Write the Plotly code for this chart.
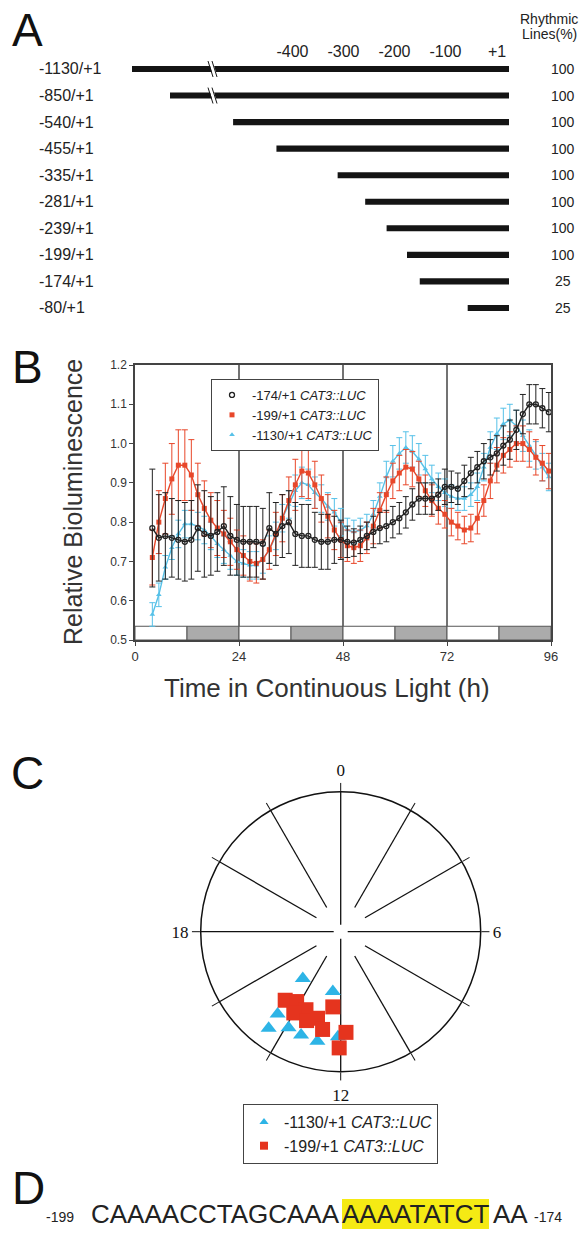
import plotly.graph_objects as go

W, H = 582, 1233


def px(x):
    return x / W


def py(y):
    return 1 - y / H


FONT = "Liberation Sans"
SERIF = "Liberation Serif"
INK = "#222222"

# ---------------- Panel A data ----------------
construct_labels = ["-1130/+1", "-850/+1", "-540/+1", "-455/+1", "-335/+1",
                    "-281/+1", "-239/+1", "-199/+1", "-174/+1", "-80/+1"]
construct_start = [-1130, -850, -540, -455, -335, -281, -239, -199, -174, -80]
construct_end = [1, 1, 1, 1, 1, 1, 1, 1, 1, 1]
rhythmic_pct = [100, 100, 100, 100, 100, 100, 100, 100, 25, 25]
scale_tick_vals = [-400, -300, -200, -100, 1]
scale_tick_text = ["-400", "-300", "-200", "-100", "+1"]

# ---------------- Panel B data ----------------
time_h = [4.0, 5.5, 7.0, 8.5, 10.0, 11.5, 13.0, 14.5, 16.0, 17.5,
          19.0, 20.5, 22.0, 23.5, 25.0, 26.5, 28.0, 29.5, 31.0, 32.5,
          34.0, 35.5, 37.0, 38.5, 40.0, 41.5, 43.0, 44.5, 46.0, 47.5,
          49.0, 50.5, 52.0, 53.5, 55.0, 56.5, 58.0, 59.5, 61.0, 62.5,
          64.0, 65.5, 67.0, 68.5, 70.0, 71.5, 73.0, 74.5, 76.0, 77.5,
          79.0, 80.5, 82.0, 83.5, 85.0, 86.5, 88.0, 89.5, 91.0, 92.5,
          94.0, 95.5]

lum_174 = [0.785, 0.76, 0.765, 0.76, 0.755, 0.75, 0.755, 0.785, 0.77, 0.765,
           0.775, 0.79, 0.765, 0.755, 0.75, 0.75, 0.75, 0.745, 0.785, 0.77,
           0.79, 0.80, 0.77, 0.765, 0.765, 0.755, 0.75, 0.75, 0.755, 0.755,
           0.75, 0.748, 0.755, 0.765, 0.775, 0.785, 0.79, 0.80, 0.81, 0.825,
           0.845, 0.86, 0.86, 0.86, 0.87, 0.89, 0.89, 0.885, 0.905, 0.925,
           0.94, 0.955, 0.965, 0.975, 0.995, 1.01, 1.035, 1.075, 1.10, 1.10,
           1.09, 1.08]
err_174 = [0.15, 0.11, 0.11, 0.10, 0.10, 0.10, 0.10, 0.11, 0.11, 0.10,
           0.10, 0.10, 0.10, 0.09, 0.09, 0.09, 0.09, 0.09, 0.09, 0.08,
           0.08, 0.08, 0.08, 0.08, 0.08, 0.07, 0.07, 0.07, 0.06, 0.05,
           0.04, 0.035, 0.035, 0.035, 0.04, 0.04, 0.04, 0.04, 0.04, 0.04,
           0.04, 0.04, 0.04, 0.04, 0.04, 0.045, 0.04, 0.04, 0.04, 0.04,
           0.04, 0.045, 0.045, 0.045, 0.05, 0.05, 0.05, 0.05, 0.05, 0.05,
           0.05, 0.05]

lum_199 = [0.71, 0.80, 0.86, 0.91, 0.945, 0.945, 0.92, 0.87, 0.835, 0.805,
           0.785, 0.77, 0.75, 0.73, 0.715, 0.70, 0.695, 0.705, 0.73, 0.77,
           0.81, 0.855, 0.895, 0.93, 0.925, 0.895, 0.86, 0.815, 0.78, 0.755,
           0.74, 0.735, 0.74, 0.76, 0.79, 0.83, 0.87, 0.905, 0.925, 0.94,
           0.935, 0.91, 0.88, 0.855, 0.835, 0.82, 0.80, 0.79, 0.78, 0.785,
           0.81, 0.855, 0.905, 0.945, 0.97, 0.985, 1.0, 1.0, 0.985, 0.965,
           0.95, 0.93]
err_199 = [0.07, 0.08, 0.09, 0.09, 0.09, 0.09, 0.09, 0.08, 0.07, 0.07,
           0.07, 0.06, 0.06, 0.05, 0.05, 0.05, 0.05, 0.05, 0.05, 0.055,
           0.06, 0.06, 0.065, 0.065, 0.065, 0.06, 0.06, 0.055, 0.05, 0.045,
           0.04, 0.04, 0.04, 0.04, 0.045, 0.045, 0.045, 0.045, 0.045, 0.045,
           0.045, 0.045, 0.04, 0.04, 0.04, 0.035, 0.035, 0.035, 0.035, 0.035,
           0.04, 0.04, 0.045, 0.045, 0.045, 0.045, 0.045, 0.045, 0.045, 0.045,
           0.045, 0.045]

lum_1130 = [0.565, 0.615, 0.685, 0.735, 0.77, 0.795, 0.795, 0.79, 0.78, 0.765,
            0.745, 0.73, 0.715, 0.70, 0.695, 0.69, 0.69, 0.705, 0.73, 0.765,
            0.81, 0.845, 0.88, 0.90, 0.895, 0.875, 0.86, 0.84, 0.825, 0.80,
            0.78, 0.775, 0.78, 0.79, 0.82, 0.865, 0.915, 0.955, 0.975, 0.99,
            0.98, 0.96, 0.935, 0.91, 0.89, 0.875, 0.865, 0.86, 0.86, 0.87,
            0.89, 0.94, 0.99, 1.025, 1.05, 1.06, 1.045, 1.02, 0.995, 0.97,
            0.94, 0.915]
err_1130 = [0.03, 0.03, 0.03, 0.03, 0.035, 0.035, 0.035, 0.035, 0.035, 0.035,
            0.035, 0.035, 0.035, 0.035, 0.035, 0.035, 0.035, 0.035, 0.035, 0.035,
            0.035, 0.035, 0.04, 0.04, 0.04, 0.04, 0.035, 0.035, 0.035, 0.035,
            0.03, 0.03, 0.03, 0.03, 0.035, 0.035, 0.04, 0.04, 0.04, 0.04,
            0.04, 0.04, 0.035, 0.035, 0.035, 0.035, 0.03, 0.03, 0.03, 0.03,
            0.035, 0.035, 0.04, 0.04, 0.04, 0.04, 0.04, 0.04, 0.04, 0.035,
            0.035, 0.035]

ld_start = [0, 12, 24, 36, 48, 60, 72, 84]
ld_end = [12, 24, 36, 48, 60, 72, 84, 96]
ld_state = ["light", "dark", "light", "dark", "light", "dark", "light", "dark"]
day_lines = [24, 48, 72]
time_ticks = [0, 24, 48, 72, 96]

# ---------------- Panel C data ----------------
phase_1130_h = [14.6, 12.5, 14.5, 14.45, 13.9, 13.4, 12.8, 12.1]
amp_1130 = [0.43, 0.43, 0.74, 0.86, 0.78, 0.79, 0.80, 0.75]
phase_199_h = [14.6, 14.15, 13.6, 12.4, 14.0, 13.4, 13.0, 12.7, 11.8, 12.05]
amp_199 = [0.63, 0.59, 0.61, 0.54, 0.67, 0.68, 0.64, 0.71, 0.72, 0.83]
clock_hours = [0, 2, 4, 6, 8, 10, 12, 14, 16, 18, 20, 22]
clock_labels = {0: "0", 6: "6", 12: "12", 18: "18"}

# ---------------- Panel D data ----------------
seq_left = "CAAAACCTAGCAAA"
seq_box = "AAAATATCT"
seq_right = "AA"

RED = "#E8472A"
BLUE = "#56C1E8"
BLACK = "#222222"
C_BLUE = "#2DB4E6"
C_RED = "#E5341E"

fig = go.Figure()

# ======== Panel A geometry ========
A_ROW0, A_STEP = 69.0, 26.55
K_MAIN = 0.51          # px per bp
END_PX = 509.0         # pixel of +1
MAIN_L, MAIN_R = 213.0, 520.0
xr_main = [1 - (END_PX - MAIN_L) / K_MAIN, 1 + (MAIN_R - END_PX) / K_MAIN]
LEFT_L = 100.0
K_LEFT = (170.0 - 132.0) / 280.0
xr_left = [-1130 - (132.0 - LEFT_L) / K_LEFT, -1130 + (MAIN_L - 132.0) / K_LEFT]
A_TOP, A_BOT = 61.0, 330.0
yr_a = [(A_BOT - A_ROW0) / A_STEP, (A_TOP - A_ROW0) / A_STEP]

rows = list(range(len(construct_labels)))
lengths = [e - s for s, e in zip(construct_start, construct_end)]

fig.add_trace(go.Bar(y=rows, x=lengths, base=construct_start, orientation="h",
                     width=0.23, marker=dict(color="#141414", line=dict(width=0)),
                     xaxis="x", yaxis="y", showlegend=False, hoverinfo="skip"))
broken = [i for i, s in enumerate(construct_start) if s < xr_main[0]]
fig.add_trace(go.Bar(y=[rows[i] for i in broken], x=[lengths[i] for i in broken],
                     base=[construct_start[i] for i in broken], orientation="h",
                     width=0.23, marker=dict(color="#141414", line=dict(width=0)),
                     xaxis="x2", yaxis="y", showlegend=False, hoverinfo="skip"))

shapes = []
for i in broken:
    r = rows[i]
    bx = MAIN_L
    shapes.append(dict(type="path", xref="paper", yref="y", layer="above",
                       path=f"M {px(bx-3)},{r-0.13} L {px(bx+1)},{r-0.13} L {px(bx+3)},{r+0.13} L {px(bx-1)},{r+0.13} Z",
                       fillcolor="white", line=dict(width=0)))
    for off in (-3.5, 0.5):
        shapes.append(dict(type="line", xref="paper", yref="y", layer="above",
                           x0=px(bx + off - 1.5), x1=px(bx + off + 3.5), y0=r - 0.3, y1=r + 0.3,
                           line=dict(color="#141414", width=1)))

annotations = []
for r, lab, pct in zip(rows, construct_labels, rhythmic_pct):
    annotations.append(dict(text=lab, x=px(37), y=r, xref="paper", yref="y",
                            xanchor="left", yanchor="middle", showarrow=False,
                            font=dict(size=16, color=INK, family=FONT)))
    annotations.append(dict(text=str(pct), x=px(563), y=r, xref="paper", yref="y",
                            xanchor="center", yanchor="middle", showarrow=False,
                            font=dict(size=14, color=INK, family=FONT)))
annotations.append(dict(text="Rhythmic", x=px(549), y=py(19), xref="paper", yref="paper",
                        xanchor="center", yanchor="middle", showarrow=False,
                        font=dict(size=14, color=INK, family=FONT)))
annotations.append(dict(text="Lines(%)", x=px(549), y=py(34), xref="paper", yref="paper",
                        xanchor="center", yanchor="middle", showarrow=False,
                        font=dict(size=14, color=INK, family=FONT)))

for letter, (lx, ly) in zip("ABCD", [(27, 30), (27, 367), (27, 773), (28, 1188)]):
    annotations.append(dict(text=letter, x=px(lx), y=py(ly), xref="paper", yref="paper",
                            xanchor="center", yanchor="middle", showarrow=False,
                            font=dict(size=46, color="#111", family=FONT)))

# ======== Panel B ========
B_L, B_R, B_T, B_B = 135.0, 551.0, 365.0, 640.0
for name, ys, es, col, sym, msize, mline in [
        ("-1130/+1 <i>CAT3::LUC</i>", lum_1130, err_1130, BLUE, "triangle-up", 5, None),
        ("-199/+1 <i>CAT3::LUC</i>", lum_199, err_199, RED, "square", 5, None),
        ("-174/+1 <i>CAT3::LUC</i>", lum_174, err_174, BLACK, "circle-open", 5, 1.3)]:
    mk = dict(symbol=sym, size=msize, color=col)
    if mline:
        mk["line"] = dict(color=col, width=mline)
    fig.add_trace(go.Scatter(x=time_h, y=ys, mode="lines+markers", marker=mk,
                             line=dict(color=col, width=1.4),
                             error_y=dict(type="data", array=es, color=col, thickness=1, width=3),
                             xaxis="x3", yaxis="y3", showlegend=False, hoverinfo="skip"))
for name, col, sym in [("-174/+1 <i>CAT3::LUC</i>", BLACK, "circle-open"),
                       ("-199/+1 <i>CAT3::LUC</i>", RED, "square"),
                       ("-1130/+1 <i>CAT3::LUC</i>", BLUE, "triangle-up")]:
    mk = dict(symbol=sym, size=5, color=col)
    if sym == "circle-open":
        mk["line"] = dict(color=col, width=1.3)
    fig.add_trace(go.Scatter(x=[None], y=[None], mode="markers", marker=mk, name=name,
                             xaxis="x3", yaxis="y3", legend="legend", showlegend=True))

BAND_TOP = 0.535
for s, e, st in zip(ld_start, ld_end, ld_state):
    shapes.append(dict(type="rect", xref="x3", yref="y3", x0=s, x1=e, y0=0.5, y1=BAND_TOP,
                       fillcolor="#ABABAB" if st == "dark" else "white",
                       line=dict(color="#555", width=1), layer="below"))
for d in day_lines:
    shapes.append(dict(type="line", xref="x3", yref="y3 domain", x0=d, x1=d, y0=0, y1=1,
                       line=dict(color="#444", width=1.5), layer="below"))

annotations.append(dict(text="Relative Bioluminescence", x=px(73), y=py(502), xref="paper",
                        yref="paper", textangle=-90, showarrow=False, xanchor="center",
                        yanchor="middle", font=dict(size=25, color="#333", family=FONT)))
annotations.append(dict(text="Time in Continuous Light (h)", x=px(327), y=py(688),
                        xref="paper", yref="paper", showarrow=False, xanchor="center",
                        yanchor="middle", font=dict(size=26, color="#333", family=FONT)))

# ======== Panel C ========
spoke_r, spoke_t = [], []
for h in clock_hours:
    r_in = 0.05 if h in clock_labels else 0.2
    spoke_r += [r_in, 1.0, None]
    spoke_t += [h * 15, h * 15, None]
fig.add_trace(go.Scatterpolar(r=spoke_r, theta=spoke_t, mode="lines",
                              line=dict(color="#111", width=1.3), subplot="polar",
                              showlegend=False, hoverinfo="skip"))
fig.add_trace(go.Scatterpolar(r=amp_1130, theta=[h * 15 for h in phase_1130_h], mode="markers",
                              marker=dict(symbol="triangle-up", size=14, color=C_BLUE),
                              subplot="polar", showlegend=False, hoverinfo="skip"))
fig.add_trace(go.Scatterpolar(r=amp_199, theta=[h * 15 for h in phase_199_h], mode="markers",
                              marker=dict(symbol="square", size=15, color=C_RED),
                              subplot="polar", showlegend=False, hoverinfo="skip"))
fig.add_trace(go.Scatterpolar(r=[None], theta=[None], mode="markers",
                              marker=dict(symbol="triangle-up", size=8, color=C_BLUE),
                              name="-1130/+1 <i>CAT3::LUC</i>", subplot="polar",
                              legend="legend2"))
fig.add_trace(go.Scatterpolar(r=[None], theta=[None], mode="markers",
                              marker=dict(symbol="square", size=8, color=C_RED),
                              name="-199/+1 <i>CAT3::LUC</i>", subplot="polar",
                              legend="legend2"))

CX, CY, CR = 340.7, 931.7, 140.0

# ======== Panel D ========
SEQ_Y = 1214
BOX_X = 341.5
annotations.append(dict(text="-199", x=px(44), y=py(SEQ_Y + 3), xref="paper", yref="paper",
                        xanchor="left", yanchor="middle", showarrow=False,
                        font=dict(size=14, color=INK, family=FONT)))
annotations.append(dict(text=seq_left, x=px(BOX_X), y=py(SEQ_Y), xref="paper", yref="paper",
                        xanchor="right", yanchor="middle", showarrow=False,
                        font=dict(size=26, color=INK, family=FONT)))
annotations.append(dict(text=seq_box, x=px(BOX_X), y=py(SEQ_Y), xref="paper", yref="paper",
                        xanchor="left", yanchor="middle", showarrow=False, bgcolor="#F5EA14",
                        borderpad=0, borderwidth=0,
                        font=dict(size=26, color=INK, family=FONT)))
annotations.append(dict(text=seq_right, x=px(491), y=py(SEQ_Y), xref="paper", yref="paper",
                        xanchor="left", yanchor="middle", showarrow=False,
                        font=dict(size=26, color=INK, family=FONT)))
annotations.append(dict(text="-174", x=px(532), y=py(SEQ_Y + 3), xref="paper", yref="paper",
                        xanchor="left", yanchor="middle", showarrow=False,
                        font=dict(size=14, color=INK, family=FONT)))

fig.update_layout(
    width=W, height=H, autosize=False,
    margin=dict(l=0, r=0, t=0, b=0),
    paper_bgcolor="white", plot_bgcolor="white",
    template="none",
    font=dict(family=FONT, color=INK),
    barmode="overlay",
    xaxis=dict(domain=[px(MAIN_L), px(MAIN_R)], range=xr_main, anchor="y", side="top",
               tickvals=scale_tick_vals, ticktext=scale_tick_text, ticks="",
               ticklabelshift=-12, ticklabelstandoff=0,
               tickfont=dict(size=16, color=INK, family=FONT),
               showgrid=False, zeroline=False, showline=False, fixedrange=True),
    xaxis2=dict(domain=[px(LEFT_L), px(MAIN_L)], range=xr_left, anchor="y", visible=False,
                showgrid=False, zeroline=False),
    yaxis=dict(domain=[py(A_BOT), py(A_TOP)], range=yr_a, anchor="x", visible=False,
               showgrid=False, zeroline=False),
    xaxis3=dict(domain=[px(B_L), px(B_R)], range=[0, 96], anchor="y3",
                tickvals=time_ticks, ticks="outside", ticklen=4, tickcolor="#444",
                tickfont=dict(size=13, color="#333", family=FONT),
                showline=True, mirror=True, linecolor="#444", linewidth=1.5,
                showgrid=False, zeroline=False),
    yaxis3=dict(domain=[py(B_B), py(B_T)], range=[0.5, 1.2], anchor="x3", dtick=0.1,
                tick0=0.5, tickformat=".1f", ticks="outside", ticklen=4, tickcolor="#444",
                tickfont=dict(size=12, color="#333", family=FONT),
                showline=True, mirror=True, linecolor="#444", linewidth=1.5,
                showgrid=False, zeroline=False),
    polar=dict(
        domain=dict(x=[px(CX - CR), px(CX + CR)], y=[py(CY + CR), py(CY - CR)]),
        bgcolor="white",
        radialaxis=dict(visible=False, range=[0, 1]),
        angularaxis=dict(rotation=90, direction="clockwise",
                         tickvals=[h * 15 for h in clock_hours],
                         ticktext=[clock_labels.get(h, "") for h in clock_hours],
                         ticks="outside", ticklen=8, tickwidth=1.3, tickcolor="#111",
                         showgrid=False, showline=True, linecolor="#111", linewidth=1.5,
                         tickfont=dict(size=17, color="#111", family=SERIF)),
    ),
    legend=dict(x=px(211), y=py(379), xanchor="left", yanchor="top", bgcolor="white",
                bordercolor="#444", borderwidth=1, font=dict(size=13, color=INK, family=FONT),
                itemwidth=30, tracegroupgap=0),
    legend2=dict(x=px(243), y=py(1104), xanchor="left", yanchor="top", bgcolor="white",
                 bordercolor="#444", borderwidth=1, font=dict(size=16, color=INK, family=FONT),
                 itemwidth=30, tracegroupgap=0),
    shapes=shapes,
    annotations=annotations,
)

fig.write_html("out.html")
